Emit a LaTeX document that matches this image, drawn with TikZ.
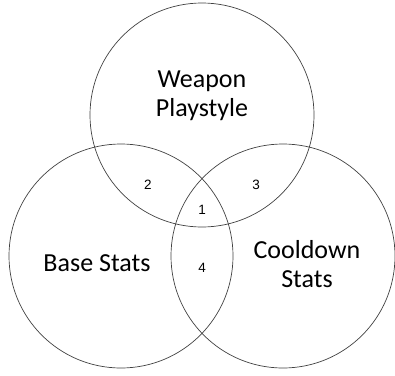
\documentclass[tikz,border=0pt]{standalone}
\usepackage{fontspec}
\setmainfont{Carlito}
\newfontfamily\numfont{Liberation Sans}
\begin{document}
\begin{tikzpicture}[x=1pt, y=-1pt,
    set/.style    = {circle, draw=black!75, line width=0.7pt, minimum size=224pt, inner sep=0},
    title/.style  = {align=center, inner sep=0, font=\fontsize{26}{28.5}\selectfont},
    region/.style = {inner sep=0, font=\numfont\fontsize{13.5}{15}\selectfont}]
    \useasboundingbox (0,0) rectangle (395,375);

    \node[set] (play)  at (202,115) {};
    \node[set] (base)  at (121,256) {};
    \node[set] (cool)  at (283,256) {};

    \node[title]              (playT) at (202,96)  {Weapon\\Playstyle};
    \node[title, anchor=base] (baseT) at (97,271)  {Base Stats};
    \node[title]              (coolT) at (307,264) {Cooldown\\Stats};

    \node[region] (r1) at (202,210) {1};
    \node[region] (r2) at (148,185) {2};
    \node[region] (r3) at (256,185) {3};
    \node[region] (r4) at (202,268) {4};
\end{tikzpicture}
\end{document}
